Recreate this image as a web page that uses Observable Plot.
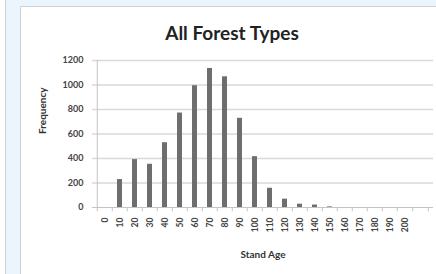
<!DOCTYPE html>
<html>
<head>
<meta charset="utf-8">
<script src="https://cdn.jsdelivr.net/npm/d3@7"></script>
<script src="https://cdn.jsdelivr.net/npm/@observablehq/plot@0.6"></script>
<style>
  html, body { margin: 0; padding: 0; overflow: hidden; }
  body { width: 436px; height: 274px; background: #eaf5fd; position: relative; font-family: Lato, "Open Sans", sans-serif; }
  #leftpanel { position: absolute; left: 0; top: 0; width: 5px; height: 274px; background: #fff; border-right: 1px solid #cfd3d6; }
  #panel { position: absolute; left: 20px; top: 6px; width: 460px; height: 300px; background: #fff; border: 1px solid #cfd3d6; }
  #title { position: absolute; left: 0; top: 21px; width: 464px; text-align: center; font: bold 19px Lato, sans-serif; color: #222; }
  #chart { position: absolute; left: 0; top: 0; }
</style>
</head>
<body>
<div id="leftpanel"></div>
<div id="panel"></div>
<div id="title">All Forest Types</div>
<div id="chart"></div>
<script>
const ages = ["0","10","20","30","40","50","60","70","80","90","100","110","120","130","140","150","160","170","180","190","200"];
const frequency = [0,228,391,353,529,771,994,1135,1067,728,415,157,68,27,20,5,0,0,0,0,0];
const yTicks = [0,200,400,600,800,1000,1200];

const data = ages.map((a, i) => ({age: a, freq: frequency[i]}));
const step = 15.5;
const x0 = 92;

const chart = Plot.plot({
  width: 436,
  height: 274,
  marginLeft: 92,
  marginRight: 3,
  marginTop: 60,
  marginBottom: 67,
  style: {background: "transparent", fontFamily: "Lato, sans-serif", overflow: "visible"},
  x: {type: "band", domain: ages, range: [x0, x0 + step * ages.length], padding: 0.66, paddingOuter: 0.33},
  y: {domain: [0, 1200]},
  marks: [
    Plot.ruleY(yTicks.filter(d => d > 0), {stroke: "#d9d9d9", strokeWidth: 1.5}),
    Plot.ruleY([0], {stroke: "#c4c4c4", strokeWidth: 1}),
    Plot.ruleX(ages, {x: d => d, dx: -step / 2, y1: 0, y2: -35, stroke: "#c4c4c4"}),
    Plot.ruleX(["200"], {x: d => d, dx: step / 2, y1: 0, y2: -35, stroke: "#c4c4c4"}),
    Plot.ruleX(["200"], {x: d => d, dx: step * 1.5, y1: 0, y2: -35, stroke: "#c4c4c4"}),
    Plot.ruleX(["0"], {x: d => d, dx: -step / 2, y1: 0, y2: 1200, stroke: "#c4c4c4"}),
    Plot.barY(data, {x: "age", y: "freq", fill: "#6e6e6e"}),
    Plot.axisY({ticks: yTicks, tickFormat: d => String(d), tickSize: 0, tickPadding: 9, fontSize: 9, fill: "#444", fontWeight: "bold", label: null}),
    Plot.axisX({tickSize: 0, tickRotate: -90, tickPadding: 10, fontSize: 8.5, fill: "#444", fontWeight: "bold", label: null}),
    Plot.text(["Frequency"], {frameAnchor: "left", rotate: -90, dx: -50, fontSize: 10, fontWeight: "bold", fill: "#333"}),
    Plot.text(["Stand Age"], {frameAnchor: "bottom", dy: 50, fontSize: 10, fontWeight: "bold", fill: "#333"})
  ]
});
document.getElementById("chart").appendChild(chart);
</script>
</body>
</html>
